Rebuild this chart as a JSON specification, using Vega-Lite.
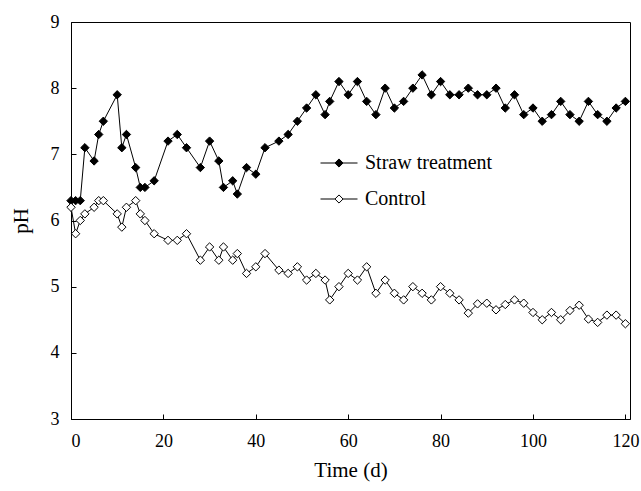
{
  "$schema": "https://vega.github.io/schema/vega-lite/v6.json",
  "width": 559,
  "height": 397,
  "autosize": {"type": "none"},
  "padding": {"left": 71, "top": 22, "right": 11, "bottom": 72},
  "background": "white",
  "config": {
    "font": "Liberation Serif",
    "view": {"stroke": "black", "strokeWidth": 1},
    "axis": {
      "domainColor": "black", "tickColor": "black", "labelColor": "black", "titleColor": "black",
      "grid": false, "labelFont": "Liberation Serif", "titleFont": "Liberation Serif",
      "labelFontSize": 18, "titleFontSize": 21, "titleFontWeight": "normal", "tickSize": -5
    },
    "legend": {"labelFont": "Liberation Serif", "labelFontSize": 20, "labelColor": "black"}
  },
  "data": {"values": [
    {"series": "Straw treatment", "day": 0, "pH": 6.3},
    {"series": "Straw treatment", "day": 1, "pH": 6.3},
    {"series": "Straw treatment", "day": 2, "pH": 6.3},
    {"series": "Straw treatment", "day": 3, "pH": 7.1},
    {"series": "Straw treatment", "day": 5, "pH": 6.9},
    {"series": "Straw treatment", "day": 6, "pH": 7.3},
    {"series": "Straw treatment", "day": 7, "pH": 7.5},
    {"series": "Straw treatment", "day": 10, "pH": 7.9},
    {"series": "Straw treatment", "day": 11, "pH": 7.1},
    {"series": "Straw treatment", "day": 12, "pH": 7.3},
    {"series": "Straw treatment", "day": 14, "pH": 6.8},
    {"series": "Straw treatment", "day": 15, "pH": 6.5},
    {"series": "Straw treatment", "day": 16, "pH": 6.5},
    {"series": "Straw treatment", "day": 18, "pH": 6.6},
    {"series": "Straw treatment", "day": 21, "pH": 7.2},
    {"series": "Straw treatment", "day": 23, "pH": 7.3},
    {"series": "Straw treatment", "day": 25, "pH": 7.1},
    {"series": "Straw treatment", "day": 28, "pH": 6.8},
    {"series": "Straw treatment", "day": 30, "pH": 7.2},
    {"series": "Straw treatment", "day": 32, "pH": 6.9},
    {"series": "Straw treatment", "day": 33, "pH": 6.5},
    {"series": "Straw treatment", "day": 35, "pH": 6.6},
    {"series": "Straw treatment", "day": 36, "pH": 6.4},
    {"series": "Straw treatment", "day": 38, "pH": 6.8},
    {"series": "Straw treatment", "day": 40, "pH": 6.7},
    {"series": "Straw treatment", "day": 42, "pH": 7.1},
    {"series": "Straw treatment", "day": 45, "pH": 7.2},
    {"series": "Straw treatment", "day": 47, "pH": 7.3},
    {"series": "Straw treatment", "day": 49, "pH": 7.5},
    {"series": "Straw treatment", "day": 51, "pH": 7.7},
    {"series": "Straw treatment", "day": 53, "pH": 7.9},
    {"series": "Straw treatment", "day": 55, "pH": 7.6},
    {"series": "Straw treatment", "day": 56, "pH": 7.8},
    {"series": "Straw treatment", "day": 58, "pH": 8.1},
    {"series": "Straw treatment", "day": 60, "pH": 7.9},
    {"series": "Straw treatment", "day": 62, "pH": 8.1},
    {"series": "Straw treatment", "day": 64, "pH": 7.8},
    {"series": "Straw treatment", "day": 66, "pH": 7.6},
    {"series": "Straw treatment", "day": 68, "pH": 8.0},
    {"series": "Straw treatment", "day": 70, "pH": 7.7},
    {"series": "Straw treatment", "day": 72, "pH": 7.8},
    {"series": "Straw treatment", "day": 74, "pH": 8.0},
    {"series": "Straw treatment", "day": 76, "pH": 8.2},
    {"series": "Straw treatment", "day": 78, "pH": 7.9},
    {"series": "Straw treatment", "day": 80, "pH": 8.1},
    {"series": "Straw treatment", "day": 82, "pH": 7.9},
    {"series": "Straw treatment", "day": 84, "pH": 7.9},
    {"series": "Straw treatment", "day": 86, "pH": 8.0},
    {"series": "Straw treatment", "day": 88, "pH": 7.9},
    {"series": "Straw treatment", "day": 90, "pH": 7.9},
    {"series": "Straw treatment", "day": 92, "pH": 8.0},
    {"series": "Straw treatment", "day": 94, "pH": 7.7},
    {"series": "Straw treatment", "day": 96, "pH": 7.9},
    {"series": "Straw treatment", "day": 98, "pH": 7.6},
    {"series": "Straw treatment", "day": 100, "pH": 7.7},
    {"series": "Straw treatment", "day": 102, "pH": 7.5},
    {"series": "Straw treatment", "day": 104, "pH": 7.6},
    {"series": "Straw treatment", "day": 106, "pH": 7.8},
    {"series": "Straw treatment", "day": 108, "pH": 7.6},
    {"series": "Straw treatment", "day": 110, "pH": 7.5},
    {"series": "Straw treatment", "day": 112, "pH": 7.8},
    {"series": "Straw treatment", "day": 114, "pH": 7.6},
    {"series": "Straw treatment", "day": 116, "pH": 7.5},
    {"series": "Straw treatment", "day": 118, "pH": 7.7},
    {"series": "Straw treatment", "day": 120, "pH": 7.8},
    {"series": "Control", "day": 0, "pH": 6.2},
    {"series": "Control", "day": 1, "pH": 5.8},
    {"series": "Control", "day": 2, "pH": 6.0},
    {"series": "Control", "day": 3, "pH": 6.1},
    {"series": "Control", "day": 5, "pH": 6.2},
    {"series": "Control", "day": 6, "pH": 6.3},
    {"series": "Control", "day": 7, "pH": 6.3},
    {"series": "Control", "day": 10, "pH": 6.1},
    {"series": "Control", "day": 11, "pH": 5.9},
    {"series": "Control", "day": 12, "pH": 6.2},
    {"series": "Control", "day": 14, "pH": 6.3},
    {"series": "Control", "day": 15, "pH": 6.1},
    {"series": "Control", "day": 16, "pH": 6.0},
    {"series": "Control", "day": 18, "pH": 5.8},
    {"series": "Control", "day": 21, "pH": 5.7},
    {"series": "Control", "day": 23, "pH": 5.7},
    {"series": "Control", "day": 25, "pH": 5.8},
    {"series": "Control", "day": 28, "pH": 5.4},
    {"series": "Control", "day": 30, "pH": 5.6},
    {"series": "Control", "day": 32, "pH": 5.4},
    {"series": "Control", "day": 33, "pH": 5.6},
    {"series": "Control", "day": 35, "pH": 5.4},
    {"series": "Control", "day": 36, "pH": 5.5},
    {"series": "Control", "day": 38, "pH": 5.2},
    {"series": "Control", "day": 40, "pH": 5.3},
    {"series": "Control", "day": 42, "pH": 5.5},
    {"series": "Control", "day": 45, "pH": 5.25},
    {"series": "Control", "day": 47, "pH": 5.2},
    {"series": "Control", "day": 49, "pH": 5.3},
    {"series": "Control", "day": 51, "pH": 5.1},
    {"series": "Control", "day": 53, "pH": 5.2},
    {"series": "Control", "day": 55, "pH": 5.1},
    {"series": "Control", "day": 56, "pH": 4.8},
    {"series": "Control", "day": 58, "pH": 5.0},
    {"series": "Control", "day": 60, "pH": 5.2},
    {"series": "Control", "day": 62, "pH": 5.1},
    {"series": "Control", "day": 64, "pH": 5.3},
    {"series": "Control", "day": 66, "pH": 4.9},
    {"series": "Control", "day": 68, "pH": 5.1},
    {"series": "Control", "day": 70, "pH": 4.9},
    {"series": "Control", "day": 72, "pH": 4.8},
    {"series": "Control", "day": 74, "pH": 5.0},
    {"series": "Control", "day": 76, "pH": 4.9},
    {"series": "Control", "day": 78, "pH": 4.8},
    {"series": "Control", "day": 80, "pH": 5.0},
    {"series": "Control", "day": 82, "pH": 4.9},
    {"series": "Control", "day": 84, "pH": 4.8},
    {"series": "Control", "day": 86, "pH": 4.6},
    {"series": "Control", "day": 88, "pH": 4.74},
    {"series": "Control", "day": 90, "pH": 4.75},
    {"series": "Control", "day": 92, "pH": 4.65},
    {"series": "Control", "day": 94, "pH": 4.73},
    {"series": "Control", "day": 96, "pH": 4.8},
    {"series": "Control", "day": 98, "pH": 4.75},
    {"series": "Control", "day": 100, "pH": 4.61},
    {"series": "Control", "day": 102, "pH": 4.5},
    {"series": "Control", "day": 104, "pH": 4.61},
    {"series": "Control", "day": 106, "pH": 4.5},
    {"series": "Control", "day": 108, "pH": 4.64},
    {"series": "Control", "day": 110, "pH": 4.72},
    {"series": "Control", "day": 112, "pH": 4.51},
    {"series": "Control", "day": 114, "pH": 4.46},
    {"series": "Control", "day": 116, "pH": 4.57},
    {"series": "Control", "day": 118, "pH": 4.57},
    {"series": "Control", "day": 120, "pH": 4.44}
  ]},
  "encoding": {
    "x": {"field": "day", "type": "quantitative", "scale": {"domain": [0, 121], "nice": false},
      "axis": {"values": [0, 20, 40, 60, 80, 100, 120], "title": "Time (d)", "labelPadding": 18, "titlePadding": 9}},
    "y": {"field": "pH", "type": "quantitative", "scale": {"domain": [3, 9], "nice": false, "zero": false},
      "axis": {"values": [3, 4, 5, 6, 7, 8, 9], "title": "pH", "labelPadding": 17, "titlePadding": 19}}
  },
  "layer": [
    {"mark": {"type": "line", "color": "black", "strokeWidth": 1},
     "encoding": {"detail": {"field": "series"}}},
    {"mark": {"type": "point", "shape": "diamond", "filled": true, "stroke": "black", "strokeWidth": 1, "size": 70, "opacity": 1},
     "encoding": {
       "fill": {"field": "series", "type": "nominal",
         "scale": {"domain": ["Straw treatment", "Control"], "range": ["black", "white"]},
         "legend": {"title": null, "orient": "none", "legendX": 249, "legendY": 122,
           "symbolType": "M-1,0L-0.22,0M0.22,0L1,0M-0.22,0L0,-0.22L0.22,0L0,0.22Z",
           "symbolSize": 1369, "symbolStrokeColor": "black", "symbolStrokeWidth": 1,
           "labelOffset": 7, "rowPadding": 7}}
     }}
  ]
}
